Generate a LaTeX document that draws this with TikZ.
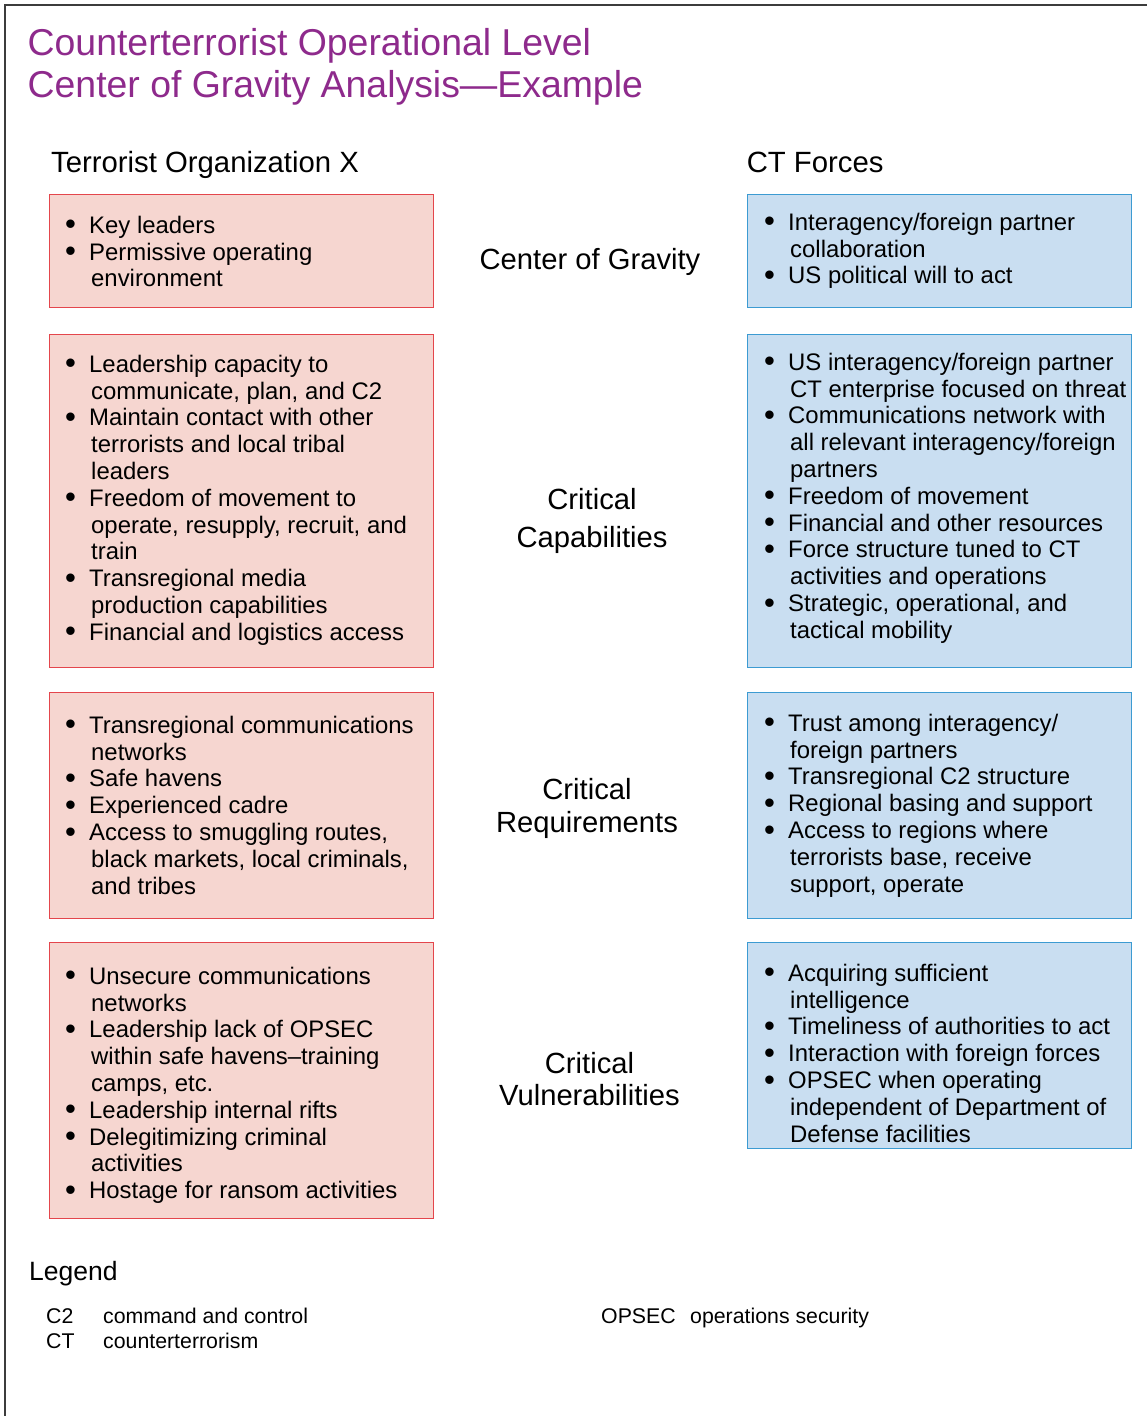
\documentclass[tikz,border=0pt]{standalone}
\usepackage{fontspec}
\setmainfont{Liberation Sans}
\usepackage{graphicx}
\definecolor{titlepurple}{RGB}{142,42,140}
\definecolor{boxred}{RGB}{228,70,76}
\definecolor{fillred}{RGB}{246,214,208}
\definecolor{boxblue}{RGB}{60,155,210}
\definecolor{fillblue}{RGB}{201,222,241}
\definecolor{framecol}{RGB}{60,60,60}
\newcommand\bitem{\makebox[24pt][l]{\raisebox{-1.6pt}{\scalebox{1.3}{\textbullet}}}}
\newcommand\cont{\hspace*{26pt}}
\tikzset{
  redbox/.style={draw=boxred, fill=fillred, line width=1.3pt, anchor=north west, inner sep=0pt, minimum width=384pt},
  bluebox/.style={draw=boxblue, fill=fillblue, line width=1.3pt, anchor=north west, inner sep=0pt, minimum width=384pt},
  listtext/.style={anchor=north west, align=left, inner sep=0pt, font=\fontsize{23.9}{26.8}\selectfont},
  titletext/.style={anchor=north west, align=left, inner sep=0pt, text=titlepurple, font=\fontsize{37.4}{42}\selectfont},
  headtext/.style={anchor=base west, inner sep=0pt, font=\fontsize{29.3}{34}\selectfont},
  midtext/.style={anchor=north, align=center, inner sep=0pt},
  legtext/.style={anchor=base west, inner sep=0pt, font=\fontsize{21.3}{25}\selectfont},
}
\begin{document}
\begin{tikzpicture}[x=1pt,y=-1pt]
\useasboundingbox (0,0) rectangle (1147,1416);
\fill[white] (0,0) rectangle (1147,1416);
\draw[framecol, line width=2pt] (5,1416) -- (5,5) -- (1147,5);

% title
\node[titletext] (title) at (27.5,{55-29.4}) {\strut Counterterrorist Operational Level\\Center of Gravity Analysis\textemdash Example};

% headers
\node[headtext] (hleft) at (51,172) {Terrorist Organization X};
\node[headtext] (hright) at (746.6,172) {CT Forces};

% boxes
\node[redbox, minimum height=113pt] (L1) at (49,194) {};
\node[redbox, minimum height=333pt] (L2) at (49,334) {};
\node[redbox, minimum height=226pt] (L3) at (49,692) {};
\node[redbox, minimum height=276pt] (L4) at (49,942) {};
\node[bluebox, minimum height=113pt] (R1) at (747,194) {};
\node[bluebox, minimum height=333pt] (R2) at (747,334) {};
\node[bluebox, minimum height=226pt] (R3) at (747,692) {};
\node[bluebox, minimum height=206pt] (R4) at (747,942) {};

% left texts
\node[listtext] (L1t) at (65,{233-18.76}) {\strut\bitem Key leaders\\
\bitem Permissive operating\\
\cont environment};
\node[listtext] (L2t) at (65,{372-18.76}) {\strut\bitem Leadership capacity to\\
\cont communicate, plan, and C2\\
\bitem Maintain contact with other\\
\cont terrorists and local tribal\\
\cont leaders\\
\bitem Freedom of movement to\\
\cont operate, resupply, recruit, and\\
\cont train\\
\bitem Transregional media\\
\cont production capabilities\\
\bitem Financial and logistics access};
\node[listtext] (L3t) at (65,{733-18.76}) {\strut\bitem Transregional communications\\
\cont networks\\
\bitem Safe havens\\
\bitem Experienced cadre\\
\bitem Access to smuggling routes,\\
\cont black markets, local criminals,\\
\cont and tribes};
\node[listtext] (L4t) at (65,{984-18.76}) {\strut\bitem Unsecure communications\\
\cont networks\\
\bitem Leadership lack of OPSEC\\
\cont within safe havens\textendash training\\
\cont camps, etc.\\
\bitem Leadership internal rifts\\
\bitem Delegitimizing criminal\\
\cont activities\\
\bitem Hostage for ransom activities};

% right texts
\node[listtext] (R1t) at (764,{230-18.76}) {\strut\bitem Interagency/foreign partner\\
\cont collaboration\\
\bitem US political will to act};
\node[listtext] (R2t) at (764,{370-18.76}) {\strut\bitem US interagency/foreign partner\\
\cont CT enterprise focused on threat\\
\bitem Communications network with\\
\cont all relevant interagency/foreign\\
\cont partners\\
\bitem Freedom of movement\\
\bitem Financial and other resources\\
\bitem Force structure tuned to CT\\
\cont activities and operations\\
\bitem Strategic, operational, and\\
\cont tactical mobility};
\node[listtext] (R3t) at (764,{731-18.76}) {\strut\bitem Trust among interagency/\\
\cont foreign partners\\
\bitem Transregional C2 structure\\
\bitem Regional basing and support\\
\bitem Access to regions where\\
\cont terrorists base, receive\\
\cont support, operate};
\node[listtext] (R4t) at (764,{981-18.76}) {\strut\bitem Acquiring sufficient\\
\cont intelligence\\
\bitem Timeliness of authorities to act\\
\bitem Interaction with foreign forces\\
\bitem OPSEC when operating\\
\cont independent of Department of\\
\cont Defense facilities};

% middle labels
\node[midtext, font=\fontsize{29.2}{34}\selectfont, anchor=base] (cog) at (590,269) {Center of Gravity};
\node[midtext, font=\fontsize{29.2}{38}\selectfont] (cc) at (592,{509.3-26.6}) {\strut Critical\\Capabilities};
\node[midtext, font=\fontsize{29.2}{33}\selectfont] (cr) at (587,{799-23.1}) {\strut Critical\\Requirements};
\node[midtext, font=\fontsize{29.2}{32}\selectfont] (cv) at (589.5,{1073.3-22.4}) {\strut Critical\\Vulnerabilities};

% legend
\node[anchor=base west, inner sep=0pt, font=\fontsize{26.5}{30}\selectfont] (leg) at (29,1280.7) {Legend};
\node[legtext] (c2a) at (46,1323.3) {C2};
\node[legtext] (c2b) at (103,1323.3) {command and control};
\node[legtext] (cta) at (46,1348.3) {CT};
\node[legtext] (ctb) at (103,1348.3) {counterterrorism};
\node[legtext] (opa) at (601,1323.3) {OPSEC};
\node[legtext] (opb) at (690,1323.3) {operations security};
\end{tikzpicture}
\end{document}
